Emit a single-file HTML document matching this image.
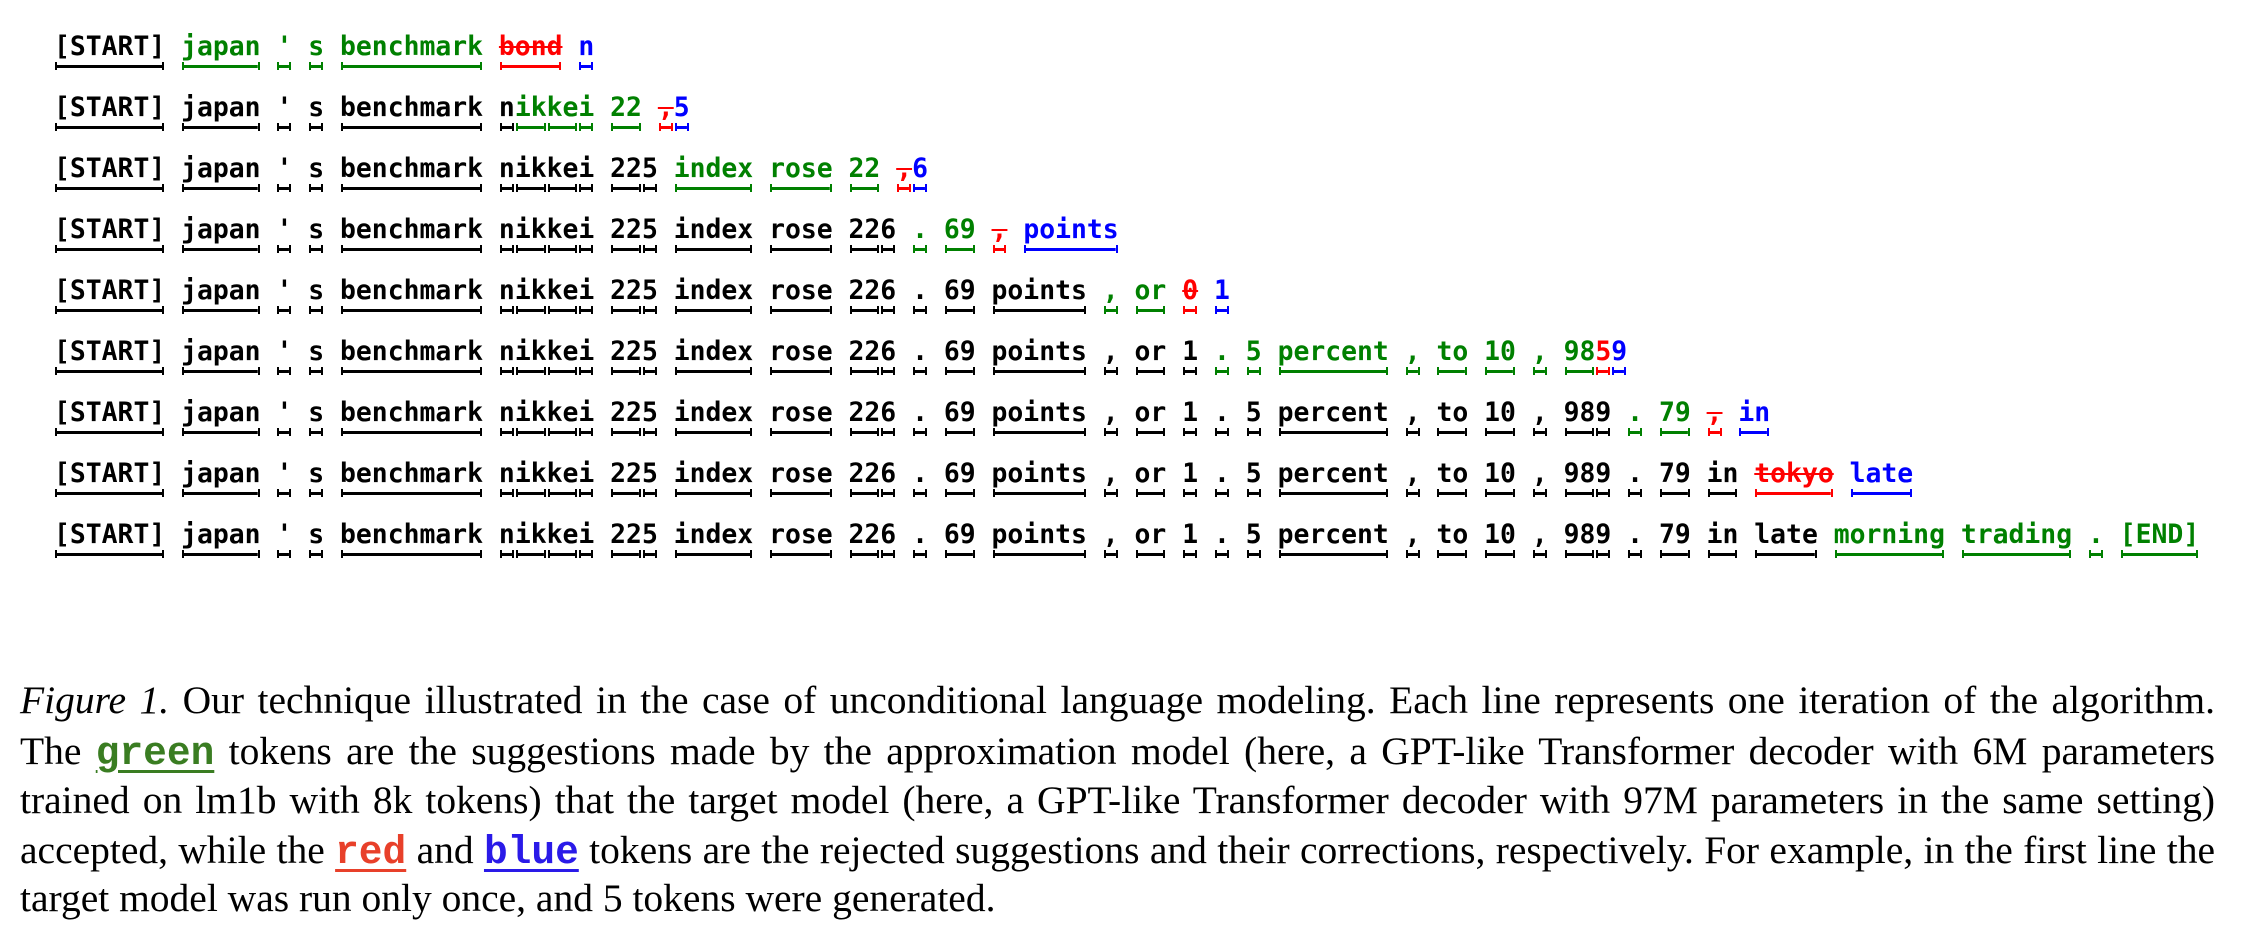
<!DOCTYPE html>
<html><head><meta charset="utf-8"><style>
html,body{margin:0;padding:0;background:#fff;}
body{width:2248px;height:944px;position:relative;overflow:hidden;}
.r{position:absolute;left:54px;font-family:"DejaVu Sans Mono","Liberation Mono",monospace;font-weight:bold;font-size:26.4px;line-height:30px;white-space:pre;color:#000;}
.r span{position:relative;}
.r span::after{content:"";position:absolute;left:1px;right:1px;top:31px;height:8px;box-sizing:border-box;border-left:2.5px solid currentColor;border-right:2.5px solid currentColor;background:linear-gradient(currentColor,currentColor) center/100% 3px no-repeat;}
.g{color:#008000;}.x{color:#ff0000;text-decoration:line-through;text-decoration-thickness:2px;}.xr{color:#ff0000;}.b{color:#0000ff;}
.cap{position:absolute;left:20px;width:2195px;font-family:"Liberation Serif",serif;font-size:39.5px;line-height:50px;white-space:nowrap;text-align:justify;text-align-last:justify;}
.cap.last{text-align-last:left;}
.c{font-family:"Liberation Mono",monospace;font-weight:bold;text-decoration:underline;text-underline-offset:6px;}
</style></head><body>

<div class="r" style="top:32px"><span>[START]</span> <span class="g">japan</span> <span class="g">'</span> <span class="g">s</span> <span class="g">benchmark</span> <span class="x">bond</span> <span class="b">n</span></div>

<div class="r" style="top:93px"><span>[START]</span> <span>japan</span> <span>'</span> <span>s</span> <span>benchmark</span> <span>n</span><span class="g">ik</span><span class="g">ke</span><span class="g">i</span> <span class="g">22</span> <span class="x">,</span><span class="b">5</span></div>

<div class="r" style="top:154px"><span>[START]</span> <span>japan</span> <span>'</span> <span>s</span> <span>benchmark</span> <span>n</span><span>ik</span><span>ke</span><span>i</span> <span>22</span><span>5</span> <span class="g">index</span> <span class="g">rose</span> <span class="g">22</span> <span class="x">,</span><span class="b">6</span></div>

<div class="r" style="top:215px"><span>[START]</span> <span>japan</span> <span>'</span> <span>s</span> <span>benchmark</span> <span>n</span><span>ik</span><span>ke</span><span>i</span> <span>22</span><span>5</span> <span>index</span> <span>rose</span> <span>22</span><span>6</span> <span class="g">.</span> <span class="g">69</span> <span class="x">,</span> <span class="b">points</span></div>

<div class="r" style="top:276px"><span>[START]</span> <span>japan</span> <span>'</span> <span>s</span> <span>benchmark</span> <span>n</span><span>ik</span><span>ke</span><span>i</span> <span>22</span><span>5</span> <span>index</span> <span>rose</span> <span>22</span><span>6</span> <span>.</span> <span>69</span> <span>points</span> <span class="g">,</span> <span class="g">or</span> <span class="x">0</span> <span class="b">1</span></div>

<div class="r" style="top:337px"><span>[START]</span> <span>japan</span> <span>'</span> <span>s</span> <span>benchmark</span> <span>n</span><span>ik</span><span>ke</span><span>i</span> <span>22</span><span>5</span> <span>index</span> <span>rose</span> <span>22</span><span>6</span> <span>.</span> <span>69</span> <span>points</span> <span>,</span> <span>or</span> <span>1</span> <span class="g">.</span> <span class="g">5</span> <span class="g">percent</span> <span class="g">,</span> <span class="g">to</span> <span class="g">10</span> <span class="g">,</span> <span class="g">98</span><span class="xr">5</span><span class="b">9</span></div>

<div class="r" style="top:398px"><span>[START]</span> <span>japan</span> <span>'</span> <span>s</span> <span>benchmark</span> <span>n</span><span>ik</span><span>ke</span><span>i</span> <span>22</span><span>5</span> <span>index</span> <span>rose</span> <span>22</span><span>6</span> <span>.</span> <span>69</span> <span>points</span> <span>,</span> <span>or</span> <span>1</span> <span>.</span> <span>5</span> <span>percent</span> <span>,</span> <span>to</span> <span>10</span> <span>,</span> <span>98</span><span>9</span> <span class="g">.</span> <span class="g">79</span> <span class="x">,</span> <span class="b">in</span></div>

<div class="r" style="top:459px"><span>[START]</span> <span>japan</span> <span>'</span> <span>s</span> <span>benchmark</span> <span>n</span><span>ik</span><span>ke</span><span>i</span> <span>22</span><span>5</span> <span>index</span> <span>rose</span> <span>22</span><span>6</span> <span>.</span> <span>69</span> <span>points</span> <span>,</span> <span>or</span> <span>1</span> <span>.</span> <span>5</span> <span>percent</span> <span>,</span> <span>to</span> <span>10</span> <span>,</span> <span>98</span><span>9</span> <span>.</span> <span>79</span> <span>in</span> <span class="x">tokyo</span> <span class="b">late</span></div>

<div class="r" style="top:520px"><span>[START]</span> <span>japan</span> <span>'</span> <span>s</span> <span>benchmark</span> <span>n</span><span>ik</span><span>ke</span><span>i</span> <span>22</span><span>5</span> <span>index</span> <span>rose</span> <span>22</span><span>6</span> <span>.</span> <span>69</span> <span>points</span> <span>,</span> <span>or</span> <span>1</span> <span>.</span> <span>5</span> <span>percent</span> <span>,</span> <span>to</span> <span>10</span> <span>,</span> <span>98</span><span>9</span> <span>.</span> <span>79</span> <span>in</span> <span>late</span> <span class="g">morning</span> <span class="g">trading</span> <span class="g">.</span> <span class="g">[END]</span></div>

<div class="cap" style="top:675px"><i>Figure 1.</i> Our technique illustrated in the case of unconditional language modeling. Each line represents one iteration of the algorithm.</div>
<div class="cap" style="top:726px">The <span class="c" style="color:#3a7d22">green</span> tokens are the suggestions made by the approximation model (here, a GPT-like Transformer decoder with 6M parameters</div>
<div class="cap" style="top:775px">trained on lm1b with 8k tokens) that the target model (here, a GPT-like Transformer decoder with 97M parameters in the same setting)</div>
<div class="cap" style="top:825px">accepted, while the <span class="c" style="color:#e8402a">red</span> and <span class="c" style="color:#2a1ae8">blue</span> tokens are the rejected suggestions and their corrections, respectively. For example, in the first line the</div>
<div class="cap last" style="top:873px">target model was run only once, and 5 tokens were generated.</div>
</body></html>
